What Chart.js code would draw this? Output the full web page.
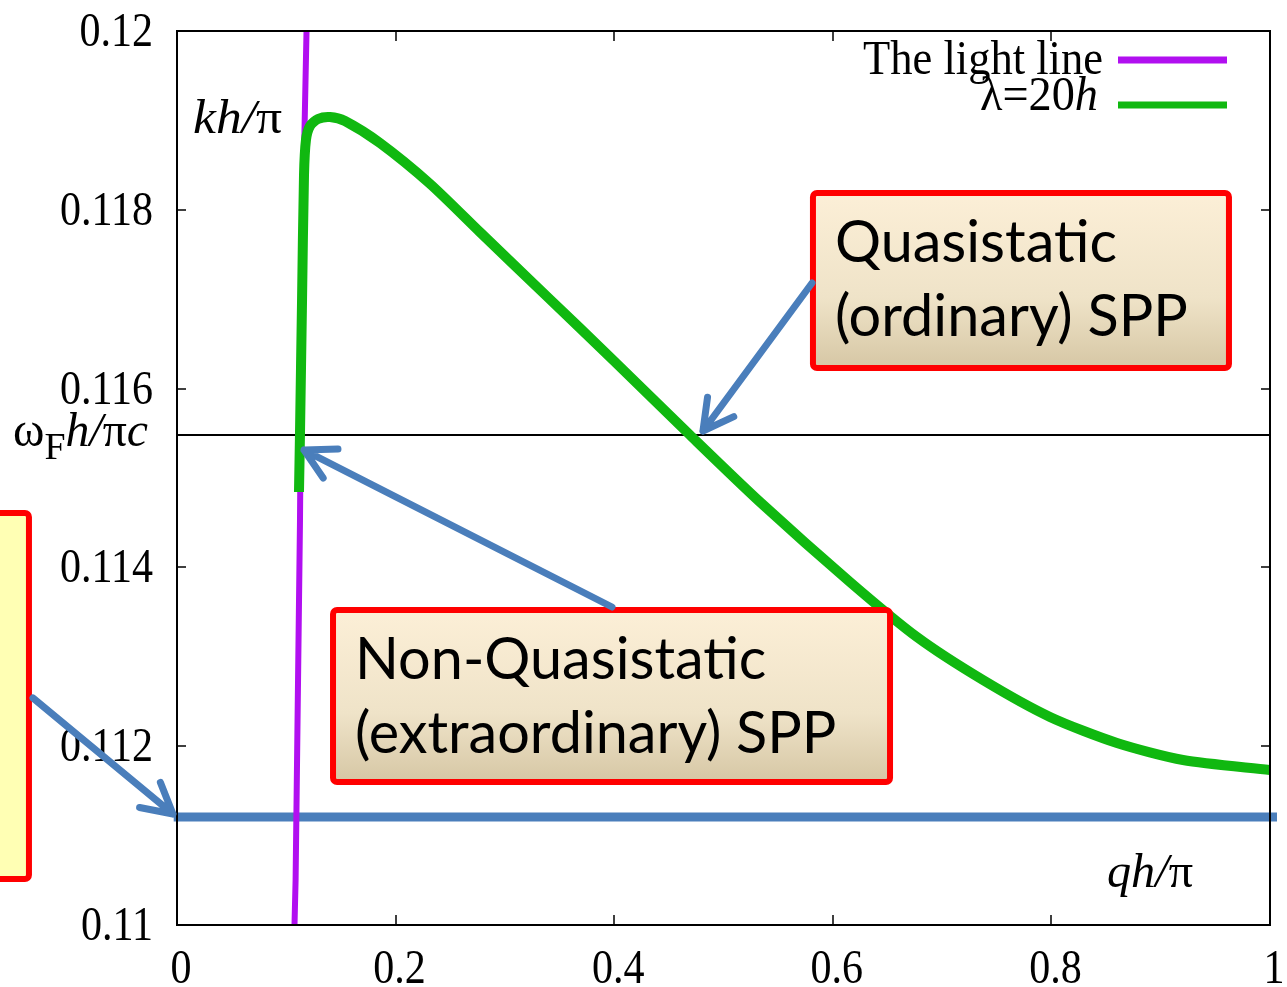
<!DOCTYPE html>
<html><head><meta charset="utf-8">
<script src="https://cdn.jsdelivr.net/npm/chart.js@4.4.1/dist/chart.umd.min.js"></script>
<style>html,body{margin:0;padding:0;background:#fff;overflow:hidden}#wrap{width:1287px;height:987px}</style>
</head><body><div id="wrap"><canvas id="c" width="1287" height="987"></canvas></div>
<script>
// ---- data ----
const xTicks = [0, 0.2, 0.4, 0.6, 0.8, 1];
const xTickLabels = ['0', '0.2', '0.4', '0.6', '0.8', '1'];
const yTicks = [0.11, 0.112, 0.114, 0.116, 0.118, 0.12];
const yTickLabels = ['0.11', '0.112', '0.114', '0.116', '0.118', '0.12'];
const seriesNames = ['The light line', 'λ=20h'];

const lightX = [0.1075, 0.1085, 0.1095, 0.1105, 0.1115, 0.1125, 0.1135, 0.1150, 0.1165, 0.1185];
const lightY = [0.1100, 0.1105, 0.1115, 0.1125, 0.1135, 0.1145, 0.1160, 0.1175, 0.1188, 0.1200];

const lambdaX = [0.1116, 0.1125, 0.1144, 0.1162, 0.1180, 0.1217, 0.1290, 0.1400, 0.1537, 0.1857, 0.2315, 0.2772, 0.3385, 0.3989, 0.4693, 0.5334, 0.6157, 0.6770, 0.7374, 0.7987, 0.8600, 0.9204, 1.0];
const lambdaY = [0.114843, 0.115481, 0.116991, 0.118389, 0.118781, 0.118937, 0.119016, 0.119038, 0.118993, 0.118747, 0.118290, 0.117750, 0.117030, 0.116320, 0.115481, 0.114732, 0.113837, 0.113221, 0.112740, 0.112327, 0.112036, 0.111846, 0.111734];

const omegaFLevel = 0.115481;   // ω_F h / πc
const cutoffLevel = 0.111208;   // blue highlighted level
const cutoffX = [-0.003, 1.0064];

// annotations (data coordinates)
const boxQuasi = {x0: 0.5791, x1: 0.9652, yTop: 0.118221, yBot: 0.116197, lines: ['Quasistatic', '(ordinary) SPP']};
const boxNonQuasi = {x0: 0.1400, x1: 0.6551, yTop: 0.113557, yBot: 0.111566, lines: ['Non-Quasistatic', '(extraordinary) SPP']};
const boxLeft = {x0: -0.1711, x1: -0.1327, yTop: 0.114642, yBot: 0.110481};
const arrows = [
  {from: [0.5810, 0.117181], to: [0.4812, 0.115526]},
  {from: [0.3980, 0.113557], to: [0.1162, 0.115313]},
  {from: [-0.1318, 0.112539], to: [-0.0037, 0.111242]}
];

function pts(xs, ys) { return xs.map((x, i) => ({x: x, y: ys[i]})); }

const SERIF = '"Liberation Serif", "DejaVu Serif", serif';
const SANS = 'Lato, "Open Sans", sans-serif';

function rich(ctx, parts, x, y, align, sx, targetW) {
  let w = 0;
  parts.forEach(p => { ctx.font = p.font; p.w = ctx.measureText(p.t).width; w += p.w; });
  if (targetW) sx = targetW / w;
  ctx.save();
  ctx.translate(x, y);
  ctx.scale(sx, 1);
  let s = align === 'right' ? -w : (align === 'center' ? -w / 2 : 0);
  ctx.textBaseline = 'alphabetic';
  ctx.textAlign = 'left';
  parts.forEach(p => { ctx.font = p.font; ctx.fillStyle = p.color || '#000'; ctx.fillText(p.t, s, p.dy || 0); s += p.w; });
  ctx.restore();
}

const overlay = {
  id: 'overlay',
  afterDraw(chart) {
    const ctx = chart.ctx, xs = chart.scales.x, ys = chart.scales.y, a = chart.chartArea;
    const X = v => xs.getPixelForValue(v), Y = v => ys.getPixelForValue(v);
    // frame
    ctx.save();
    ctx.strokeStyle = '#000'; ctx.lineWidth = 2;
    ctx.strokeRect(a.left, a.top, a.right - a.left, a.bottom - a.top);
    ctx.lineWidth = 1.5;
    ctx.beginPath();
    yTicks.forEach(v => { const p = Math.round(Y(v)); ctx.moveTo(a.left, p); ctx.lineTo(a.left + 9, p); ctx.moveTo(a.right, p); ctx.lineTo(a.right - 9, p); });
    xTicks.forEach(v => { const p = Math.round(X(v)); ctx.moveTo(p, a.bottom); ctx.lineTo(p, a.bottom - 10); ctx.moveTo(p, a.top); ctx.lineTo(p, a.top + 10); });
    ctx.stroke();
    // tick labels (squashed serif)
    const TF = '48px ' + SERIF;
    ctx.font = TF;
    const sx = 93 / ctx.measureText('0.118').width;
    ctx.fillStyle = '#000';
    yTicks.forEach((v, i) => rich(ctx, [{t: yTickLabels[i], font: TF}], a.left - 24, Y(v) + 15, 'right', sx));
    xTicks.forEach((v, i) => rich(ctx, [{t: xTickLabels[i], font: TF}], X(v) + 4, a.bottom + 58, 'center', sx));
    // axis labels
    const IT = 'italic 48px ' + SERIF, RG = '48px ' + SERIF;
    rich(ctx, [{t: 'kh/', font: IT}, {t: 'π', font: RG}], 193, 133, 'left', sx, 89);
    rich(ctx, [{t: 'qh/', font: IT}, {t: 'π', font: RG}], 1107, 887, 'left', sx, 86);
    rich(ctx, [{t: 'ω', font: RG}, {t: 'F', font: '38px ' + SERIF, dy: 13}, {t: 'h/', font: IT}, {t: 'π', font: RG}, {t: 'c', font: IT}], 13, 446, 'left', sx, 135);
    // legend
    rich(ctx, [{t: seriesNames[0], font: RG}], 1103, 74, 'right', sx, 240);
    rich(ctx, [{t: 'λ=20', font: RG}, {t: 'h', font: IT}], 1098, 110, 'right', sx, 118);
    ctx.lineCap = 'butt';
    ctx.lineWidth = 7; ctx.strokeStyle = '#b10ff0';
    ctx.beginPath(); ctx.moveTo(1118, 60); ctx.lineTo(1227, 60); ctx.stroke();
    ctx.strokeStyle = '#10b810';
    ctx.beginPath(); ctx.moveTo(1118, 105); ctx.lineTo(1227, 105); ctx.stroke();

    // callout boxes
    function callout(b, fill) {
      const l = X(b.x0) + 3, r = X(b.x1) - 3, t = Y(b.yTop) + 3, bt = Y(b.yBot) - 3;
      if (fill === 'grad') {
        const g = ctx.createLinearGradient(0, t, 0, bt);
        g.addColorStop(0, '#fcefd7'); g.addColorStop(0.6, '#efe3c8'); g.addColorStop(1, '#d6c7a5');
        ctx.fillStyle = g;
      } else ctx.fillStyle = fill;
      ctx.beginPath();
      ctx.roundRect(l, t, r - l, bt - t, 4);
      ctx.fill();
      ctx.lineWidth = 6; ctx.strokeStyle = '#ff0000'; ctx.stroke();
      return {l: l - 3, t: t - 3};
    }
    const base = 60;
    ctx.font = base + 'px ' + SANS;
    const fs = base * 282 / ctx.measureText('Quasistatic').width;
    const F = fs.toFixed(1) + 'px ' + SANS;
    [boxQuasi, boxNonQuasi].forEach(b => {
      const o = callout(b, 'grad');
      ctx.fillStyle = '#000'; ctx.font = F; ctx.textAlign = 'left'; ctx.textBaseline = 'alphabetic';
      ctx.fillText(b.lines[0], o.l + 25, o.t + 72);
      ctx.fillText(b.lines[1], o.l + 25, o.t + 146);
    });
    const lb = callout(boxLeft, '#ffffb4');
    ctx.fillStyle = '#ff0000'; ctx.font = 'bold 40px ' + SANS; ctx.textAlign = 'right';
    ctx.fillText('e', lb.l + 2, Y(boxLeft.yTop) + 112);

    // arrows
    ctx.strokeStyle = '#4a7ebb'; ctx.lineWidth = 7; ctx.lineCap = 'round'; ctx.lineJoin = 'round';
    arrows.forEach(ar => {
      const x1 = X(ar.from[0]), y1 = Y(ar.from[1]), x2 = X(ar.to[0]), y2 = Y(ar.to[1]);
      const ang = Math.atan2(y2 - y1, x2 - x1), L = 34, da = 0.5;
      ctx.beginPath();
      ctx.moveTo(x1, y1); ctx.lineTo(x2, y2);
      ctx.moveTo(x2 - L * Math.cos(ang - da), y2 - L * Math.sin(ang - da));
      ctx.lineTo(x2, y2);
      ctx.lineTo(x2 - L * Math.cos(ang + da), y2 - L * Math.sin(ang + da));
      ctx.stroke();
    });
    ctx.restore();
  }
};

new Chart(document.getElementById('c'), {
  type: 'scatter',
  data: {
    datasets: [
      {label: seriesNames[1], data: pts(lambdaX, lambdaY), showLine: true, borderColor: '#10b810', borderWidth: 10, pointRadius: 0, tension: 0.25, borderCapStyle: 'butt'},
      {label: seriesNames[0], data: pts(lightX, lightY), showLine: true, borderColor: '#b10ff0', borderWidth: 6, pointRadius: 0, tension: 0},
      {label: 'cutoff', data: pts(cutoffX, [cutoffLevel, cutoffLevel]), showLine: true, borderColor: '#4a7ebb', borderWidth: 9, pointRadius: 0, clip: false},
      {label: 'omegaF', data: pts([0, 1], [omegaFLevel, omegaFLevel]), showLine: true, borderColor: '#000', borderWidth: 2, pointRadius: 0}
    ]
  },
  options: {
    responsive: false,
    animation: false,
    layout: {padding: {left: 177, top: 31, right: 17, bottom: 62}},
    scales: {
      x: {type: 'linear', min: 0, max: 1, display: false},
      y: {type: 'linear', min: 0.11, max: 0.12, display: false}
    },
    plugins: {legend: {display: false}, tooltip: {enabled: false}}
  },
  plugins: [overlay]
});
</script>
</body></html>
